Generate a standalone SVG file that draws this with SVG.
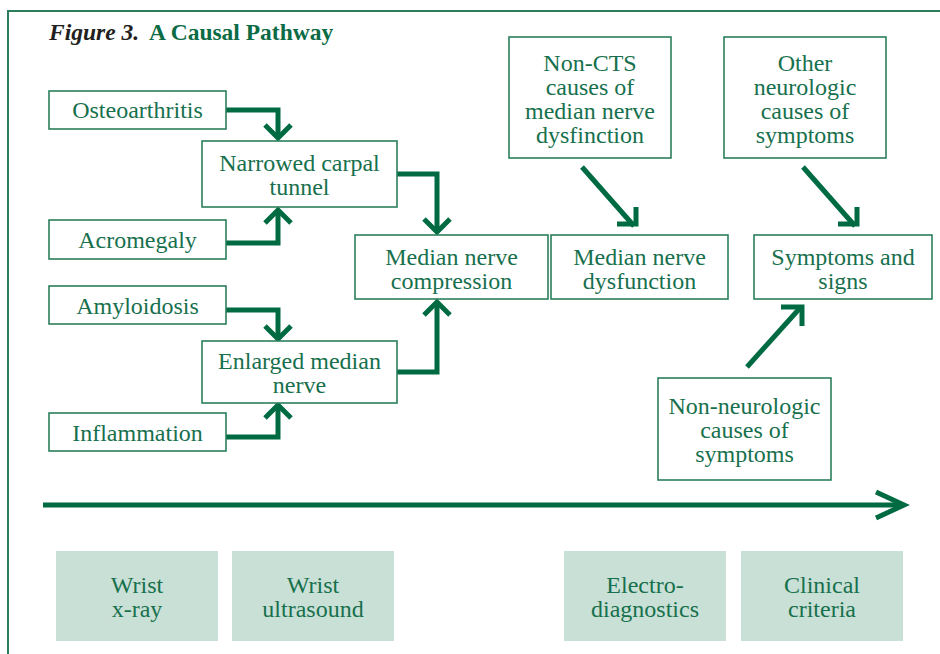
<svg xmlns="http://www.w3.org/2000/svg" width="940" height="654" viewBox="0 0 940 654">
<style>
.frame{fill:none;stroke:#2c7d5c;stroke-width:2}
.box{fill:#fff;stroke:#2b7f5c;stroke-width:1.6}
.sbox{fill:#c9e0d6;stroke:none}
.t{font-family:"Liberation Serif",serif;font-size:24px;fill:#17704d;text-anchor:middle}
.c{fill:none;stroke:#006b43;stroke-width:5;stroke-linejoin:miter;stroke-linecap:butt}
.title{font-family:"Liberation Serif",serif;font-size:23.5px;font-weight:bold}
</style>
<rect width="940" height="654" fill="#fff"/>
<path class="frame" d="M8,654 V11 H940"/>
<text class="title" x="49" y="40"><tspan font-style="italic" fill="#231f20">Figure 3.</tspan><tspan dx="10" fill="#0b6b45">A Causal Pathway</tspan></text>

<g id="connectors">
<path class="c" d="M226,110 H278 V138"/>
<path class="c" d="M265,125 L278,138 L291,125"/>
<path class="c" d="M226,243 H278 V210"/>
<path class="c" d="M265,223 L278,210 L291,223"/>
<path class="c" d="M226,310 H278 V339"/>
<path class="c" d="M265,326 L278,339 L291,326"/>
<path class="c" d="M226,437 H278 V405"/>
<path class="c" d="M265,418 L278,405 L291,418"/>
<path class="c" d="M397,174 H437 V232"/>
<path class="c" d="M424,219 L437,232 L450,219"/>
<path class="c" d="M397,372 H437 V302"/>
<path class="c" d="M424,315 L437,302 L450,315"/>
<path class="c" d="M582,167 L634,226"/>
<path class="c" d="M617,224 H636 V207"/>
<path class="c" d="M803,167 L855,226"/>
<path class="c" d="M838,224 H857 V207"/>
<path class="c" d="M747,367 L800,308"/>
<path class="c" d="M781,307 H802 V326"/>
<path class="c" d="M43,505 H903"/>
<path class="c" d="M876,492 L904,505 L876,518"/>
</g>

<g id="osteoarthritis"><rect class="box" x="49" y="91" width="177" height="38"/><text class="t" x="137.5" y="118">Osteoarthritis</text></g>
<g id="narrowed"><rect class="box" x="202" y="141" width="195" height="66"/><text class="t" x="299.5" y="171">Narrowed carpal</text><text class="t" x="299.5" y="195">tunnel</text></g>
<g id="acromegaly"><rect class="box" x="49" y="220" width="177" height="39"/><text class="t" x="137.5" y="248">Acromegaly</text></g>
<g id="amyloidosis"><rect class="box" x="49" y="286" width="177" height="38"/><text class="t" x="137.5" y="314">Amyloidosis</text></g>
<g id="enlarged"><rect class="box" x="202" y="341" width="195" height="62"/><text class="t" x="299.5" y="369">Enlarged median</text><text class="t" x="299.5" y="393">nerve</text></g>
<g id="inflammation"><rect class="box" x="49" y="413" width="177" height="38"/><text class="t" x="137.5" y="441">Inflammation</text></g>
<g id="compression"><rect class="box" x="355" y="235" width="193" height="64"/><text class="t" x="451.5" y="265">Median nerve</text><text class="t" x="451.5" y="289">compression</text></g>
<g id="noncts"><rect class="box" x="509" y="37" width="162" height="121"/><text class="t" x="590" y="71">Non-CTS</text><text class="t" x="590" y="95">causes of</text><text class="t" x="590" y="119">median nerve</text><text class="t" x="590" y="143">dysfinction</text></g>
<g id="otherneuro"><rect class="box" x="724" y="37" width="162" height="121"/><text class="t" x="805" y="71">Other</text><text class="t" x="805" y="95">neurologic</text><text class="t" x="805" y="119">causes of</text><text class="t" x="805" y="143">symptoms</text></g>
<g id="dysfunction"><rect class="box" x="551" y="235" width="177" height="64"/><text class="t" x="639.5" y="265">Median nerve</text><text class="t" x="639.5" y="289">dysfunction</text></g>
<g id="symptoms"><rect class="box" x="754" y="235" width="178" height="64"/><text class="t" x="843" y="265">Symptoms and</text><text class="t" x="843" y="289">signs</text></g>
<g id="nonneuro"><rect class="box" x="658" y="378" width="173" height="102"/><text class="t" x="744.5" y="414">Non-neurologic</text><text class="t" x="744.5" y="438">causes of</text><text class="t" x="744.5" y="462">symptoms</text></g>

<g id="xray"><rect class="sbox" x="56" y="551" width="162" height="90"/><text class="t" x="137" y="593">Wrist</text><text class="t" x="137" y="617">x-ray</text></g>
<g id="ultrasound"><rect class="sbox" x="232" y="551" width="162" height="90"/><text class="t" x="313" y="593">Wrist</text><text class="t" x="313" y="617">ultrasound</text></g>
<g id="electro"><rect class="sbox" x="564" y="551" width="162" height="90"/><text class="t" x="645" y="593">Electro-</text><text class="t" x="645" y="617">diagnostics</text></g>
<g id="clinical"><rect class="sbox" x="741" y="551" width="162" height="90"/><text class="t" x="822" y="593">Clinical</text><text class="t" x="822" y="617">criteria</text></g>
</svg>
